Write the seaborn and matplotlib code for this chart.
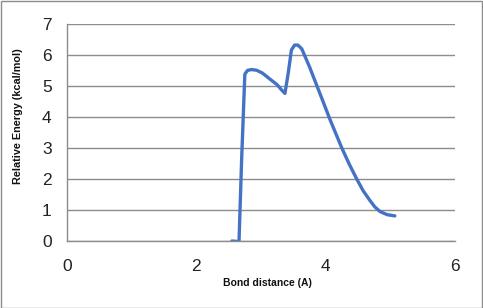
import matplotlib
matplotlib.use("Agg")
import matplotlib.pyplot as plt
import seaborn as sns
import pandas as pd

bond_distance = [2.55, 2.66, 2.70, 2.75, 2.79, 2.85, 2.93, 3.02, 3.14, 3.25, 3.32, 3.37,
                 3.42, 3.47, 3.52, 3.57, 3.63, 3.75, 3.86, 3.95, 4.065, 4.15, 4.25,
                 4.36, 4.48, 4.58, 4.68, 4.76, 4.84, 4.95, 5.07]
rel_energy = [0.0, -0.02, 2.6, 5.38, 5.5, 5.53, 5.51, 5.42, 5.22, 5.04, 4.87, 4.76,
              5.4, 6.16, 6.32, 6.32, 6.2, 5.62, 5.03, 4.55, 3.93, 3.5, 3.0,
              2.5, 2.0, 1.62, 1.32, 1.1, 0.95, 0.85, 0.81]
x_ticks = [0, 2, 4, 6]
y_ticks = [0, 1, 2, 3, 4, 5, 6, 7]

df = pd.DataFrame({"x": bond_distance, "y": rel_energy})

sns.set_style("white")
plt.rcParams["font.family"] = ["Liberation Sans", "DejaVu Sans"]

fig = plt.figure(figsize=(4.83, 3.08), dpi=100)
ax = fig.add_axes([67/483, 1-241/308, (455-67)/483, (241-24)/308])

sns.lineplot(data=df, x="x", y="y", sort=False, ax=ax, color="#4472C4",
             linewidth=2.4, solid_joinstyle="round", solid_capstyle="round")

ax.set_xlim(0, 6)
ax.set_ylim(0, 7)
ax.set_xticks(x_ticks)
ax.set_yticks(y_ticks)
ax.set_xticklabels([str(t) for t in x_ticks], fontsize=12.5)
ax.set_yticklabels([str(t) for t in y_ticks], fontsize=12.5)
ax.grid(axis="y", color="#8c8c8c", linewidth=1)
ax.set_axisbelow(True)
for s in ["top", "right"]:
    ax.spines[s].set_visible(False)
for s in ["left", "bottom"]:
    ax.spines[s].set_color("#8c8c8c")
    ax.spines[s].set_linewidth(1)
ax.tick_params(axis="both", which="major", length=5, width=1, color="#8c8c8c",
               direction="out", colors="#8c8c8c", labelcolor="#222222")
ax.tick_params(axis="x", pad=8)
ax.tick_params(axis="y", pad=6)
ax.set_xlabel("")
ax.set_ylabel("")

fig.text(267/483, 1-283/308, "Bond distance (A)", ha="center", va="center",
         fontsize=7.5, fontweight="bold", color="#111111")
fig.text(18/483, 1-116/308, "Relative Energy (kcal/mol)", ha="center", va="center",
         rotation=90, fontsize=7.8, fontweight="bold", color="#111111")

border = plt.Rectangle((0.5/483, 0.5/308), 1-1.5/483, 1-1.5/308, transform=fig.transFigure,
                       fill=False, edgecolor="#8c8c8c", linewidth=1)
fig.patches.append(border)

fig.savefig("out.png", dpi=100, facecolor="white")
